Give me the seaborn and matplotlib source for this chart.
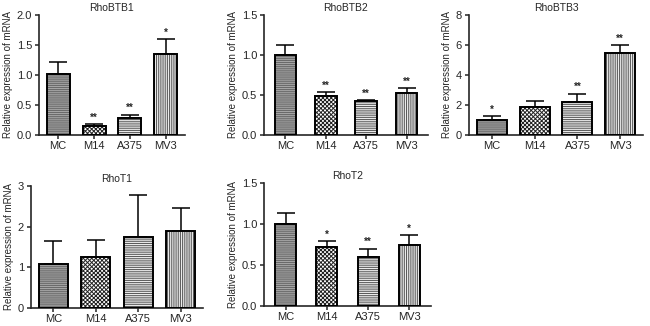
import numpy as np
import pandas as pd
import matplotlib
matplotlib.use("Agg")
import matplotlib.pyplot as plt
from matplotlib.patches import Rectangle
import seaborn as sns

# cell lines
lines = ["MC", "M14", "A375", "MV3"]

# mean relative expression, SEM and significance per gene
btb1_mean = [1.02, 0.15, 0.28, 1.35]
btb1_err = [0.20, 0.03, 0.06, 0.25]
btb1_sig = ["", "**", "**", "*"]

btb2_mean = [1.00, 0.49, 0.43, 0.52]
btb2_err = [0.13, 0.05, 0.01, 0.07]
btb2_sig = ["", "**", "**", "**"]

btb3_mean = [1.02, 1.87, 2.20, 5.50]
btb3_err = [0.25, 0.40, 0.55, 0.50]
btb3_sig = ["*", "", "**", "**"]

t1_mean = [1.07, 1.25, 1.75, 1.90]
t1_err = [0.57, 0.42, 1.03, 0.56]
t1_sig = ["", "", "", ""]

t2_mean = [1.00, 0.72, 0.60, 0.74]
t2_err = [0.13, 0.07, 0.10, 0.12]
t2_sig = ["", "*", "**", "*"]

sns.set_style("ticks")
plt.rcParams["font.family"] = ["Liberation Sans", "DejaVu Sans"]
plt.rcParams["hatch.linewidth"] = 0.7

W, H = 650, 326
fig = plt.figure(figsize=(6.5, 3.26), dpi=100)

# panel boxes in pixels: left, top, right, bottom
panels = [
    ("RhoBTB1", btb1_mean, btb1_err, btb1_sig, (39, 15, 185, 135), 0.64, [0, 0.5, 1.0, 1.5, 2.0], "{:.1f}"),
    ("RhoBTB2", btb2_mean, btb2_err, btb2_sig, (264, 15, 428, 135), 0.54, [0, 0.5, 1.0, 1.5], "{:.1f}"),
    ("RhoBTB3", btb3_mean, btb3_err, btb3_sig, (469, 15, 643, 135), 0.70, [0, 2, 4, 6, 8], "{:.0f}"),
    ("RhoT1", t1_mean, t1_err, t1_sig, (31, 186, 203, 308), 0.68, [0, 1, 2, 3], "{:.0f}"),
    ("RhoT2", t2_mean, t2_err, t2_sig, (264, 183, 431, 306), 0.51, [0, 0.5, 1.0, 1.5], "{:.1f}"),
]

styles = [
    dict(face="#6a6a6a", hatch="--------", hc="#a8a8a8"),
    dict(face="white", hatch="xxxxxxxx", hc="#222222"),
    dict(face="white", hatch="---------", hc="#555555"),
    dict(face="white", hatch="|||||||||", hc="#555555"),
]

for title, mean, err, sig, (l, t, r, b), width, yt, fmt in panels:
    ax = fig.add_axes([l / W, 1 - b / H, (r - l) / W, (b - t) / H])
    df = pd.DataFrame({"line": lines, "value": mean})
    sns.barplot(data=df, x="line", y="value", errorbar=None, width=width,
                color="white", ax=ax, zorder=2)
    for p, st in zip(ax.patches, styles):
        p.set_facecolor(st["face"])
        p.set_hatch(st["hatch"])
        p.set_edgecolor(st["hc"])
        p.set_linewidth(0)
        # black outline on top of the hatched bar
        ax.add_patch(Rectangle((p.get_x(), p.get_y()), p.get_width(), p.get_height(),
                               fill=False, edgecolor="black", linewidth=1.4, zorder=3))
    x = np.arange(len(lines))
    ax.errorbar(x, mean, yerr=[np.zeros(len(err)), err], fmt="none", ecolor="black",
                elinewidth=1.1, capsize=6.5, capthick=1.1, zorder=1)
    top = yt[-1]
    for i in range(len(lines)):
        if sig[i]:
            ax.text(i, mean[i] + err[i] + top * 0.012, sig[i], ha="center", va="bottom",
                    fontsize=7, fontweight="bold")
    ax.set_xlim(-0.53, len(lines) - 0.47)
    ax.set_ylim(0, top)
    ax.set_yticks(yt)
    ax.set_yticklabels([fmt.format(v) for v in yt])
    ax.set_xlabel("")
    ax.set_ylabel("Relative expression of mRNA", fontsize=7, labelpad=3)
    ax.set_title(title, fontsize=7.5, pad=3)
    ax.tick_params(axis="both", labelsize=8, width=1.1, length=3, direction="out", pad=2)
    ax.tick_params(axis="x", pad=1.5)
    for s in ["left", "bottom"]:
        ax.spines[s].set_linewidth(1.2)
    sns.despine(ax=ax)

fig.savefig("out.png", dpi=100)
